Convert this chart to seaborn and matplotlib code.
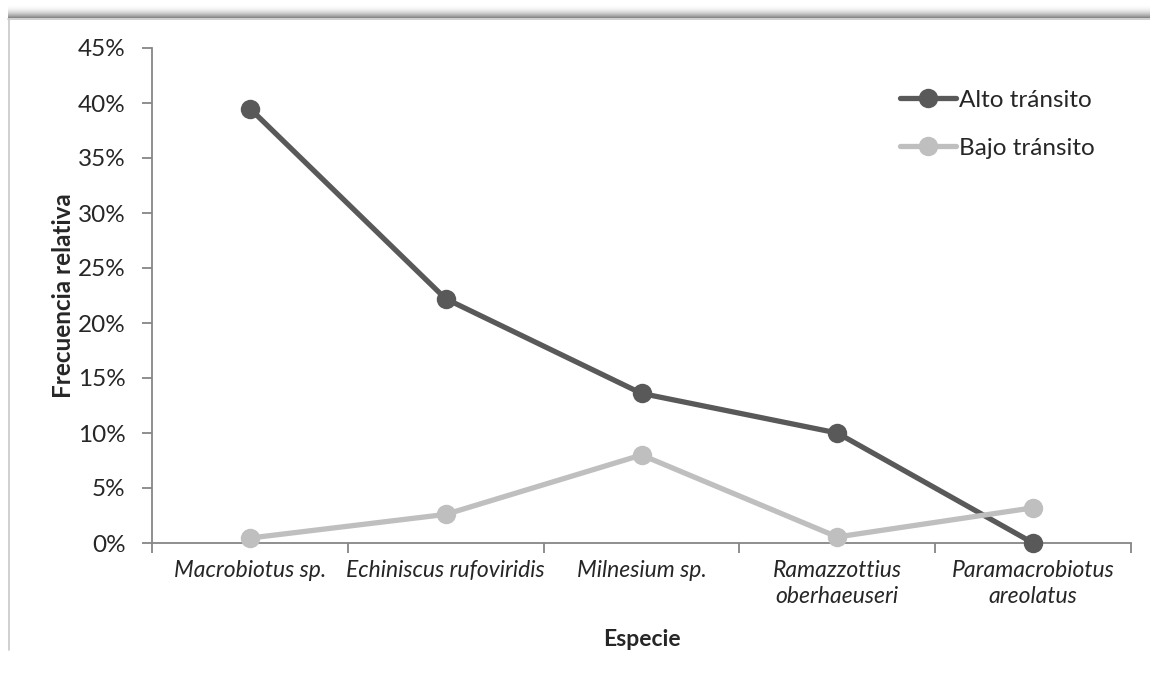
import numpy as np
import pandas as pd
import matplotlib
matplotlib.use("Agg")
import matplotlib.pyplot as plt
from matplotlib.ticker import FixedLocator, PercentFormatter, NullFormatter
from matplotlib.lines import Line2D
import seaborn as sns

# Relative frequency of tardigrade species by traffic level
especies = [
    "Macrobiotus sp.",
    "Echiniscus rufoviridis",
    "Milnesium sp.",
    "Ramazzottius\noberhaeuseri",
    "Paramacrobiotus\nareolatus",
]
alto_transito = [0.395, 0.222, 0.136, 0.100, 0.000]
bajo_transito = [0.0045, 0.026, 0.080, 0.0055, 0.032]
series = ["Alto tránsito", "Bajo tránsito"]
yticks = [0.00, 0.05, 0.10, 0.15, 0.20, 0.25, 0.30, 0.35, 0.40, 0.45]

df = pd.DataFrame({
    "Especie": especies * 2,
    "Frecuencia": alto_transito + bajo_transito,
    "Serie": [series[0]] * len(especies) + [series[1]] * len(especies),
})

sns.set_theme(style="white")
plt.rcParams["font.family"] = ["Lato", "DejaVu Sans"]

W, H = 1150, 674
fig = plt.figure(figsize=(W / 100, H / 100), dpi=100)
fig.patch.set_facecolor("white")

# Chart-area frame with a soft shadow along the top edge
bg = fig.add_axes([0, 0, 1, 1], zorder=-10)
bg.axis("off")
ramp = np.linspace(0, 1, 40)
shade = np.ones((40, 1, 4))
shade[:, 0, :3] = 0.45
shade[:, 0, 3] = ramp ** 2.2 * 0.9
bg.imshow(shade, extent=(8, 1150, 18, 4), aspect="auto", interpolation="bilinear")
bg.plot([8, 1150], [18.5, 18.5], color="#c8c8c8", lw=1.2)
bg.plot([8.5, 8.5], [18.5, 650], color="#c8c8c8", lw=1.2)
bg.set_xlim(0, W)
bg.set_ylim(H, 0)

ax = fig.add_axes([152 / W, 1 - 543 / H, (1131 - 152) / W, (543 - 48) / H])
palette = {series[0]: "#595959", series[1]: "#bfbfbf"}
sns.lineplot(
    data=df, x="Especie", y="Frecuencia", hue="Serie", palette=palette,
    marker="o", markersize=14, markeredgewidth=0, linewidth=3.8,
    sort=False, ax=ax, legend=False,
)
for line in ax.lines:
    line.set_clip_on(False)
    line.set_zorder(5)

ax.set_xlim(-0.5, len(especies) - 0.5)
ax.set_ylim(0, 0.45)
ax.yaxis.set_major_locator(FixedLocator(yticks))
ax.yaxis.set_major_formatter(PercentFormatter(1.0, decimals=0))

# Category labels sit between boundary tick marks
ax.xaxis.set_major_locator(FixedLocator(np.arange(-0.5, len(especies), 1.0)))
ax.xaxis.set_major_formatter(NullFormatter())
ax.set_xticks(np.arange(len(especies)), especies, minor=True)
ax.tick_params(axis="x", which="minor", length=0, pad=12, labelsize=16.5)
for lab in ax.get_xticklabels(minor=True):
    lab.set_fontstyle("italic")
    lab.set_linespacing(1.3)
ax.tick_params(axis="x", which="major", length=7, width=1.3, color="#868686",
               direction="out")
ax.tick_params(axis="y", length=7, width=1.3, color="#868686", direction="out",
               labelsize=17.5, pad=12)
ax.tick_params(axis="both", which="both", bottom=True, left=True)

for side in ["top", "right"]:
    ax.spines[side].set_visible(False)
for side in ["left", "bottom"]:
    ax.spines[side].set_color("#868686")
    ax.spines[side].set_linewidth(1.3)

ax.set_xlabel("Especie", fontsize=16.5, fontweight="bold", labelpad=16)
ax.set_ylabel("Frecuencia relativa", fontsize=17.5, fontweight="bold", labelpad=2)

handles = [
    Line2D([0], [0], color=palette[s], lw=3.8, marker="o", markersize=14,
           markeredgewidth=0)
    for s in series
]
ax.legend(handles, series, loc="upper left", bbox_to_anchor=(0.7545, 0.935),
          frameon=False, fontsize=17.5, handlelength=2.3, handletextpad=0.1,
          labelspacing=1.1, borderaxespad=0)

fig.savefig("out.png", dpi=100, facecolor="white")
